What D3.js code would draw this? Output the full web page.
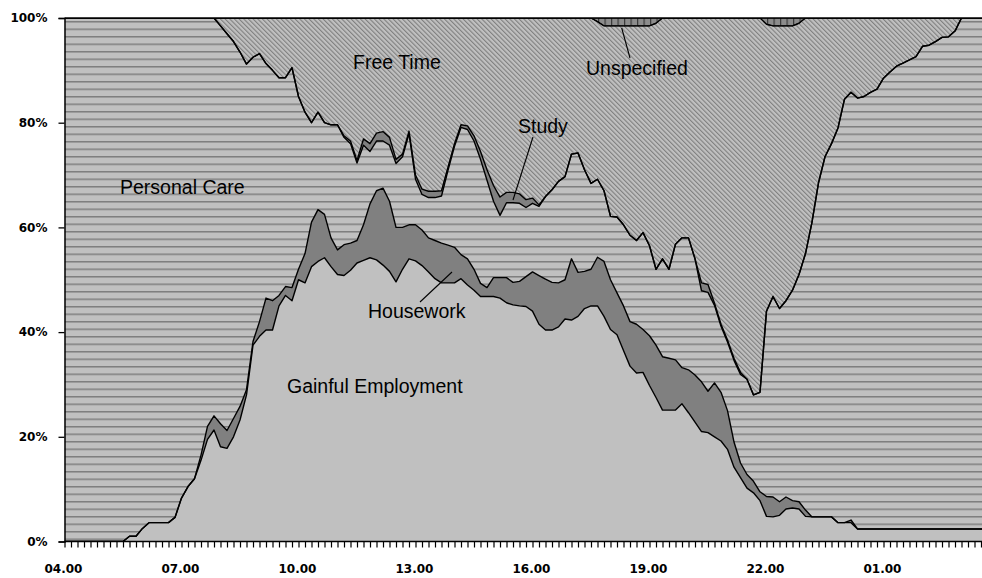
<!DOCTYPE html>
<html><head><meta charset="utf-8">
<script src="https://cdn.jsdelivr.net/npm/d3@7"></script>
<style>html,body{margin:0;padding:0;background:#fff;} svg{display:block;}</style>
</head><body>
<svg id="chart" width="982" height="578"></svg>
<script>
// ---- data: share of people (%) by activity, 10-minute slots from 04.00 ----
const startHour = 4;
const stepMinutes = 10;
const seriesKeys = ["employment","housework","personalCare","study","freeTime","unspecified"];
const seriesNames = ["Gainful Employment","Housework","Personal Care","Study","Free Time","Unspecified"];

const employment = [
 0,0,0,0,0,0,0,0,0,0,
 1,1,2.5,3.6,3.6,3.6,3.6,4.6,8.3,10.5,
 12,15.5,19.5,21.3,18.1,17.8,20,23.2,28,37.5,
 39.2,40.4,40.4,45,47,46,50,49.4,52.5,53.5,
 54.2,52.5,51,50.8,51.8,53.2,53.7,54.2,53.8,52.8,
 51.6,49.6,52,54,53.6,52.7,51.5,50.2,49.4,49.4,
 49.4,50.2,49,48,46.8,46.8,46.8,46.5,45.6,45.2,
 45,44.9,44,41.5,40.4,40.4,41,42.5,42.3,43,
 44.5,45,45,43,40.5,39.5,36.5,33.5,32.2,32.3,
 29.8,27.5,25.1,25.1,25.1,26.3,24.6,22.8,21,20.8,
 20,19.2,17.6,14.2,12.2,10.2,9.3,7.8,4.8,4.7,
 5,6.2,6.4,6.2,4.8,4.7,4.7,4.7,4.7,3.6,
 3.6,3.6,2.4,2.4,2.4,2.4,2.4,2.4,2.4,2.4,
 2.4,2.4,2.4,2.4,2.4,2.4,2.4,2.4,2.4,2.4,
 2.4,2.4,2.4,2.4];

const housework = [
 0,0,0,0,0,0,0,0,0,0,
 0,0,0,0,0,0,0,0,0,0,
 0,1,2.5,2.7,4.4,3.4,3.5,2.6,1,0.7,
 2.8,6.1,5.6,2,1.7,2.5,2,5.6,8.5,9.9,
 8.3,5.5,4.7,5.9,5.2,4.3,6.8,10.3,13.2,14.7,
 13.4,10.4,8,6.5,6.9,6.8,6.5,7.3,7.6,7.2,
 6.8,4.6,5,4,2.5,1.7,3.6,3.9,4.8,4.3,
 4.7,5.7,7.5,9.3,9.7,9.1,8.4,7.5,11.7,8.4,
 7.1,7,9.3,10.5,9.5,8,8.5,8.5,9.3,8.2,
 9.5,10,10.2,9.9,9.6,6.9,8.2,9,9.5,7.9,
 10.3,9.3,7.4,4.8,2.8,2.6,2.2,1.7,3.8,3.8,
 2.6,2.3,1.4,1.4,1.2,0,0,0,0,0,
 0,0.5,0,0,0,0,0,0,0,0,
 0,0,0,0,0,0,0,0,0,0,
 0,0,0,0];

const personalCare = [
 100,100,100,100,100,100,100,100,100,100,
 99,99,97.5,96.4,96.4,96.4,96.4,95.4,91.7,89.5,
 88,83.5,78,76,76,75.8,72,67.7,62.2,54.3,
 51.2,44.8,44,41.6,39.9,42,33,27,19,18.6,
 17.5,21.6,23.9,20.5,19,14.8,15.2,10,9.5,9,
 10.7,12.2,13.5,17.4,8.7,6.8,7.7,8.2,9,14.3,
 19.3,24.3,24.7,24.5,23.7,20.5,14.6,11.9,14.3,15.2,
 14.9,13.2,13.1,13.2,15.8,17.7,19.4,19.7,20,22.8,
 19.4,16.4,14.9,13.5,12.1,14.5,15.5,16.5,16,18.5,
 17.2,14.5,18.7,17,22.1,24.8,25.2,22.2,17.4,18.9,
 14.8,12.6,13.1,15.6,16.9,18.2,16.5,19,35.4,38.3,
 36.9,37.5,40.2,43.4,49,56.3,63.8,68.8,71.3,75.4,
 80.9,81.7,82.3,82.6,83.4,84,86.1,87.3,88.4,89,
 89.6,90.2,92.2,92.4,93.1,93.9,94,95.1,97.6,97.6,
 97.6,97.6,97.6,97.6];

const study = [
 0,0,0,0,0,0,0,0,0,0,
 0,0,0,0,0,0,0,0,0,0,
 0,0,0,0,0,0,0,0,0,0,
 0,0,0,0,0,0,0,0,0,0,
 0,0,0,0.3,0.5,0.5,1.2,1.5,1.5,1.8,
 1.5,0.8,0.5,0.5,0.8,1,1.2,1.2,1,0.6,
 0.5,0.5,0.7,1,1.5,2,3,3.5,2,2,
 1.8,1.5,1,0.3,0,0,0,0,0,0,
 0,0,0,0,0,0,0,0,0,0,
 0,0,0,0,0,0,0,0,1.5,1.5,
 0.4,0.4,0.4,0.4,0.4,0,0,0,0,0,
 0,0,0,0,0,0,0,0,0,0,
 0,0,0,0,0,0,0,0,0,0,
 0,0,0,0,0,0,0,0,0,0,
 0,0,0,0];

const freeTime = [
 0,0,0,0,0,0,0,0,0,0,
 0,0,0,0,0,0,0,0,0,0,
 0,0,0,0,1.5,3,4.5,6.5,8.8,7.5,
 6.8,8.7,10,11.4,11.4,9.5,15,18,20,18,
 20,20.4,20.4,22.5,23.5,27.2,23.1,24,22,21.7,
 22.8,27,26,21.6,30,32.7,33.1,33.1,33,28.5,
 24,20.4,20.6,22.5,25.5,29,32,34.2,33.3,33.3,
 33.6,34.7,34.4,35.7,34.1,32.8,31.2,30.3,26,25.8,
 29,31.6,30.1,31.5,36.4,36.5,38,40,41,39.5,
 42,47,46,48,43.2,42,42,46,50.6,50.9,
 54.5,58.5,61.5,65,67.7,69,72,71.5,54.8,51.7,
 54,52.5,50.5,48,45,39,31.5,26.5,24,21,
 15.5,14.2,15.3,15,14.2,13.6,11.5,10.3,9.2,8.6,
 8,7.4,5.4,5.2,4.5,3.7,3.6,2.5,0,0,
 0,0,0,0];

const unspecified = [
 0,0,0,0,0,0,0,0,0,0,
 0,0,0,0,0,0,0,0,0,0,
 0,0,0,0,0,0,0,0,0,0,
 0,0,0,0,0,0,0,0,0,0,
 0,0,0,0,0,0,0,0,0,0,
 0,0,0,0,0,0,0,0,0,0,
 0,0,0,0,0,0,0,0,0,0,
 0,0,0,0,0,0,0,0,0,0,
 0,0,0.7,1.5,1.5,1.5,1.5,1.5,1.5,1.5,
 1.5,1,0,0,0,0,0,0,0,0,
 0,0,0,0,0,0,0,0,1.2,1.5,
 1.5,1.5,1.5,1,0,0,0,0,0,0,
 0,0,0,0,0,0,0,0,0,0,
 0,0,0,0,0,0,0,0,0,0,
 0,0,0,0];

const yTicks = [0,20,40,60,80,100];
const yTickLabels = ["0%","20%","40%","60%","80%","100%"];
const xLabelHours = [4,7,10,13,16,19,22,25];
const xTickLabels = ["04.00","07.00","10.00","13.00","16.00","19.00","22.00","01.00"];

(function () {
// ---- build table ----
const seriesData = [employment, housework, personalCare, study, freeTime, unspecified];
const rows = employment.map((_, i) => {
  const r = { t: startHour + i * stepMinutes / 60 };
  seriesKeys.forEach((k, j) => r[k] = seriesData[j][i]);
  return r;
});

// ---- layout ----
const W = 982;
const plotLeft = 64.5, plotTop = 18, plotBottom = 541.5;
const pxPerHour = 39;
const svg = d3.select("#chart");

const x = d3.scaleLinear().domain([startHour, startHour + 24]).range([plotLeft, plotLeft + 24 * pxPerHour]);
const y = d3.scaleLinear().domain([0, 100]).range([plotBottom, plotTop]);

const defs = svg.append("defs");
defs.append("clipPath").attr("id", "plotClip").append("rect")
  .attr("x", plotLeft).attr("y", plotTop).attr("width", W - plotLeft).attr("height", plotBottom - plotTop);

// patterns
const pPC = defs.append("pattern").attr("id", "patPC").attr("patternUnits", "userSpaceOnUse")
  .attr("width", 10).attr("height", 7.5).attr("y", plotTop + 3);
pPC.append("rect").attr("width", 10).attr("height", 7.5).attr("fill", "#c0c0c0");
pPC.append("rect").attr("width", 10).attr("height", 1.5).attr("fill", "#7e7e7e");

const pFT = defs.append("pattern").attr("id", "patFT").attr("patternUnits", "userSpaceOnUse")
  .attr("width", 3.3).attr("height", 3.3).attr("patternTransform", "rotate(-45)");
pFT.append("rect").attr("width", 3.3).attr("height", 3.3).attr("fill", "#c0c0c0");
pFT.append("rect").attr("width", 1.1).attr("height", 3.3).attr("fill", "#808080");

const pUN = defs.append("pattern").attr("id", "patUN").attr("patternUnits", "userSpaceOnUse")
  .attr("width", 6.5).attr("height", 10);
pUN.append("rect").attr("width", 6.5).attr("height", 10).attr("fill", "#8c8c8c");
pUN.append("rect").attr("width", 1.2).attr("height", 10).attr("fill", "#3a3a3a");

const fills = {
  employment: "#c0c0c0",
  housework: "#808080",
  personalCare: "url(#patPC)",
  study: "#808080",
  freeTime: "url(#patFT)",
  unspecified: "url(#patUN)"
};

const stacked = d3.stack().keys(seriesKeys)(rows);

const area = d3.area()
  .x(d => x(d.data.t))
  .y0(d => y(d[0]))
  .y1(d => y(d[1]));
const topLine = d3.line()
  .x(d => x(d.data.t))
  .y(d => y(d[1]));

const plot = svg.append("g").attr("clip-path", "url(#plotClip)");
plot.selectAll("path.area").data(stacked).join("path")
  .attr("class", "area")
  .attr("d", area)
  .attr("fill", s => fills[s.key])
  .attr("stroke", "none");

plot.selectAll("path.edge").data(stacked.slice(0, 5)).join("path")
  .attr("class", "edge")
  .attr("d", topLine)
  .attr("fill", "none")
  .attr("stroke", "#000")
  .attr("stroke-width", 1.4)
  .attr("stroke-linejoin", "round");

plot.append("path").datum(stacked[5])
  .attr("d", area)
  .attr("fill", "none").attr("stroke", "#000").attr("stroke-width", 1);

svg.append("line").attr("x1", plotLeft).attr("x2", W).attr("y1", plotTop).attr("y2", plotTop)
  .attr("stroke", "#000").attr("stroke-width", 1.5);

// ---- axes ----
const tickFont = "'DejaVu Sans', sans-serif";
const yAxis = svg.append("g").attr("transform", `translate(${plotLeft},0)`)
  .call(d3.axisLeft(y).tickValues(yTicks).tickFormat((d, i) => yTickLabels[i]).tickSize(6).tickPadding(11));
yAxis.select(".domain").attr("stroke", "#000").attr("stroke-width", 1.5);
yAxis.selectAll(".tick line").attr("stroke", "#000").attr("stroke-width", 1.3);
yAxis.selectAll(".tick text").attr("font-family", tickFont).attr("font-size", 12)
  .attr("font-weight", "bold").attr("fill", "#000");

const minorTicks = d3.range(0, 24 * 60 / stepMinutes).map(i => startHour + i * stepMinutes / 60);
const xAxis = svg.append("g").attr("transform", `translate(0,${plotBottom})`)
  .call(d3.axisBottom(x).tickValues(minorTicks).tickFormat("").tickSize(6).tickSizeOuter(0));
xAxis.select(".domain").attr("stroke", "#000").attr("stroke-width", 1.5).attr("d", `M${plotLeft},0H${W}`);
xAxis.selectAll(".tick line").attr("stroke", "#000").attr("stroke-width", 1.2);

svg.append("g").selectAll("text").data(xLabelHours).join("text")
  .attr("x", d => x(d) - 1)
  .attr("y", 573)
  .attr("text-anchor", "middle")
  .attr("font-family", tickFont).attr("font-size", 12).attr("font-weight", "bold")
  .text((d, i) => xTickLabels[i]);

// ---- series labels ----
const labelFont = "'Liberation Sans', Arial, sans-serif";
const labels = [
  { name: seriesNames[4], x: 353, y: 69 },
  { name: seriesNames[5], x: 586, y: 75 },
  { name: seriesNames[3], x: 518, y: 133 },
  { name: seriesNames[2], x: 120, y: 194 },
  { name: seriesNames[1], x: 368, y: 318 },
  { name: seriesNames[0], x: 287, y: 393 }
];
svg.append("g").selectAll("text").data(labels).join("text")
  .attr("x", d => d.x).attr("y", d => d.y)
  .attr("font-family", labelFont).attr("font-size", 19.5).attr("fill", "#000")
  .text(d => d.name);

const leaders = [
  [621.7, 28, 630, 58],
  [533, 137, 513, 200],
  [420, 302, 452, 272]
];
svg.append("g").selectAll("line").data(leaders).join("line")
  .attr("x1", d => d[0]).attr("y1", d => d[1]).attr("x2", d => d[2]).attr("y2", d => d[3])
  .attr("stroke", "#000").attr("stroke-width", 1.1);
})();
</script>
</body></html>
